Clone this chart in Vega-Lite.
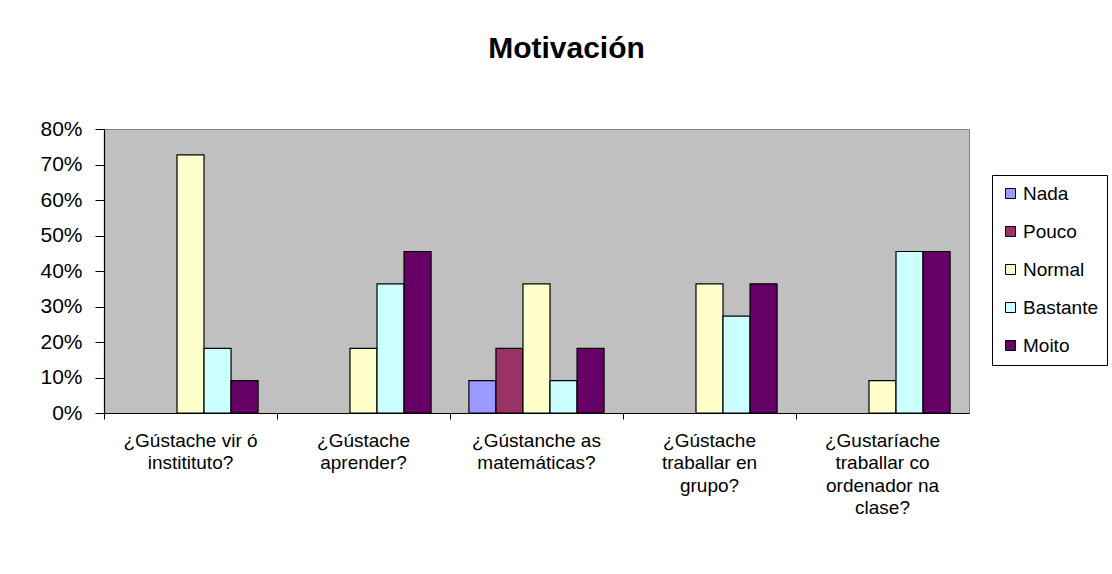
{
  "$schema": "https://vega.github.io/schema/vega-lite/v6.json",
  "width": 865,
  "height": 284,
  "autosize": {"type": "none"},
  "padding": {"left": 104, "top": 129, "right": 143, "bottom": 161},
  "background": "white",
  "title": {
    "text": "Motivación",
    "font": "Liberation Sans",
    "fontSize": 30,
    "fontWeight": "bold",
    "color": "black",
    "anchor": "middle",
    "dx": 30,
    "offset": 54
  },
  "data": {
    "values": [
      {"q": "¿Gústache vir ó|institituto?", "resp": "Nada", "v": 0},
      {"q": "¿Gústache vir ó|institituto?", "resp": "Pouco", "v": 0},
      {"q": "¿Gústache vir ó|institituto?", "resp": "Normal", "v": 0.727},
      {"q": "¿Gústache vir ó|institituto?", "resp": "Bastante", "v": 0.182},
      {"q": "¿Gústache vir ó|institituto?", "resp": "Moito", "v": 0.091},
      {"q": "¿Gústache|aprender?", "resp": "Nada", "v": 0},
      {"q": "¿Gústache|aprender?", "resp": "Pouco", "v": 0},
      {"q": "¿Gústache|aprender?", "resp": "Normal", "v": 0.182},
      {"q": "¿Gústache|aprender?", "resp": "Bastante", "v": 0.364},
      {"q": "¿Gústache|aprender?", "resp": "Moito", "v": 0.455},
      {"q": "¿Gústanche as|matemáticas?", "resp": "Nada", "v": 0.091},
      {"q": "¿Gústanche as|matemáticas?", "resp": "Pouco", "v": 0.182},
      {"q": "¿Gústanche as|matemáticas?", "resp": "Normal", "v": 0.364},
      {"q": "¿Gústanche as|matemáticas?", "resp": "Bastante", "v": 0.091},
      {"q": "¿Gústanche as|matemáticas?", "resp": "Moito", "v": 0.182},
      {"q": "¿Gústache|traballar en|grupo?", "resp": "Nada", "v": 0},
      {"q": "¿Gústache|traballar en|grupo?", "resp": "Pouco", "v": 0},
      {"q": "¿Gústache|traballar en|grupo?", "resp": "Normal", "v": 0.364},
      {"q": "¿Gústache|traballar en|grupo?", "resp": "Bastante", "v": 0.273},
      {"q": "¿Gústache|traballar en|grupo?", "resp": "Moito", "v": 0.364},
      {"q": "¿Gustaríache|traballar co|ordenador na|clase?", "resp": "Nada", "v": 0},
      {"q": "¿Gustaríache|traballar co|ordenador na|clase?", "resp": "Pouco", "v": 0},
      {"q": "¿Gustaríache|traballar co|ordenador na|clase?", "resp": "Normal", "v": 0.091},
      {"q": "¿Gustaríache|traballar co|ordenador na|clase?", "resp": "Bastante", "v": 0.455},
      {"q": "¿Gustaríache|traballar co|ordenador na|clase?", "resp": "Moito", "v": 0.455}
    ]
  },
  "transform": [{"filter": "datum.v > 0"}],
  "mark": {"type": "bar", "stroke": "black", "strokeWidth": 1.2},
  "encoding": {
    "x": {
      "field": "q",
      "type": "nominal",
      "sort": null,
      "scale": {"paddingInner": 0, "paddingOuter": 0},
      "axis": {
        "title": null,
        "labelAngle": 0,
        "bandPosition": 0,
        "labelDx": 86.5,
        "labelAlign": "center",
        "labelOverlap": false,
        "labelExpr": "split(datum.label, '|')",
        "labelFont": "Liberation Sans",
        "labelFontSize": 19,
        "labelColor": "black",
        "labelLineHeight": 22.5,
        "labelBaseline": "top",
        "labelPadding": 12,
        "ticks": true,
        "tickSize": 6,
        "tickColor": "black",
        "domainColor": "black",
        "domainWidth": 1.2
      }
    },
    "xOffset": {
      "field": "resp",
      "type": "nominal",
      "scale": {"domain": ["Nada", "Pouco", "Normal", "Bastante", "Moito"], "paddingInner": 0, "paddingOuter": 0.7}
    },
    "y": {
      "field": "v",
      "type": "quantitative",
      "scale": {"domain": [0, 0.8], "nice": false},
      "axis": {
        "title": null,
        "values": [0, 0.1, 0.2, 0.3, 0.4, 0.5, 0.6, 0.7, 0.8],
        "format": ".0%",
        "grid": false,
        "labelFont": "Liberation Sans",
        "labelFontSize": 21,
        "labelColor": "black",
        "labelPadding": 13,
        "tickSize": 9,
        "tickColor": "black",
        "domainColor": "black",
        "domainWidth": 1.2
      }
    },
    "color": {
      "field": "resp",
      "type": "nominal",
      "scale": {
        "domain": ["Nada", "Pouco", "Normal", "Bastante", "Moito"],
        "range": ["#9999FF", "#993366", "#FFFFCC", "#CCFFFF", "#660066"]
      },
      "legend": {
        "title": null,
        "orient": "none",
        "legendX": 888,
        "legendY": 46,
        "symbolType": "square",
        "symbolSize": 100,
        "symbolStrokeColor": "black",
        "symbolStrokeWidth": 1,
        "labelFont": "Liberation Sans",
        "labelFontSize": 19,
        "labelColor": "black",
        "labelOffset": 3,
        "rowPadding": 18,
        "padding": 9,
        "strokeColor": "black",
        "fillColor": "white"
      }
    }
  },
  "config": {
    "view": {"fill": "#C0C0C0", "stroke": "#808080", "strokeWidth": 1}
  }
}
